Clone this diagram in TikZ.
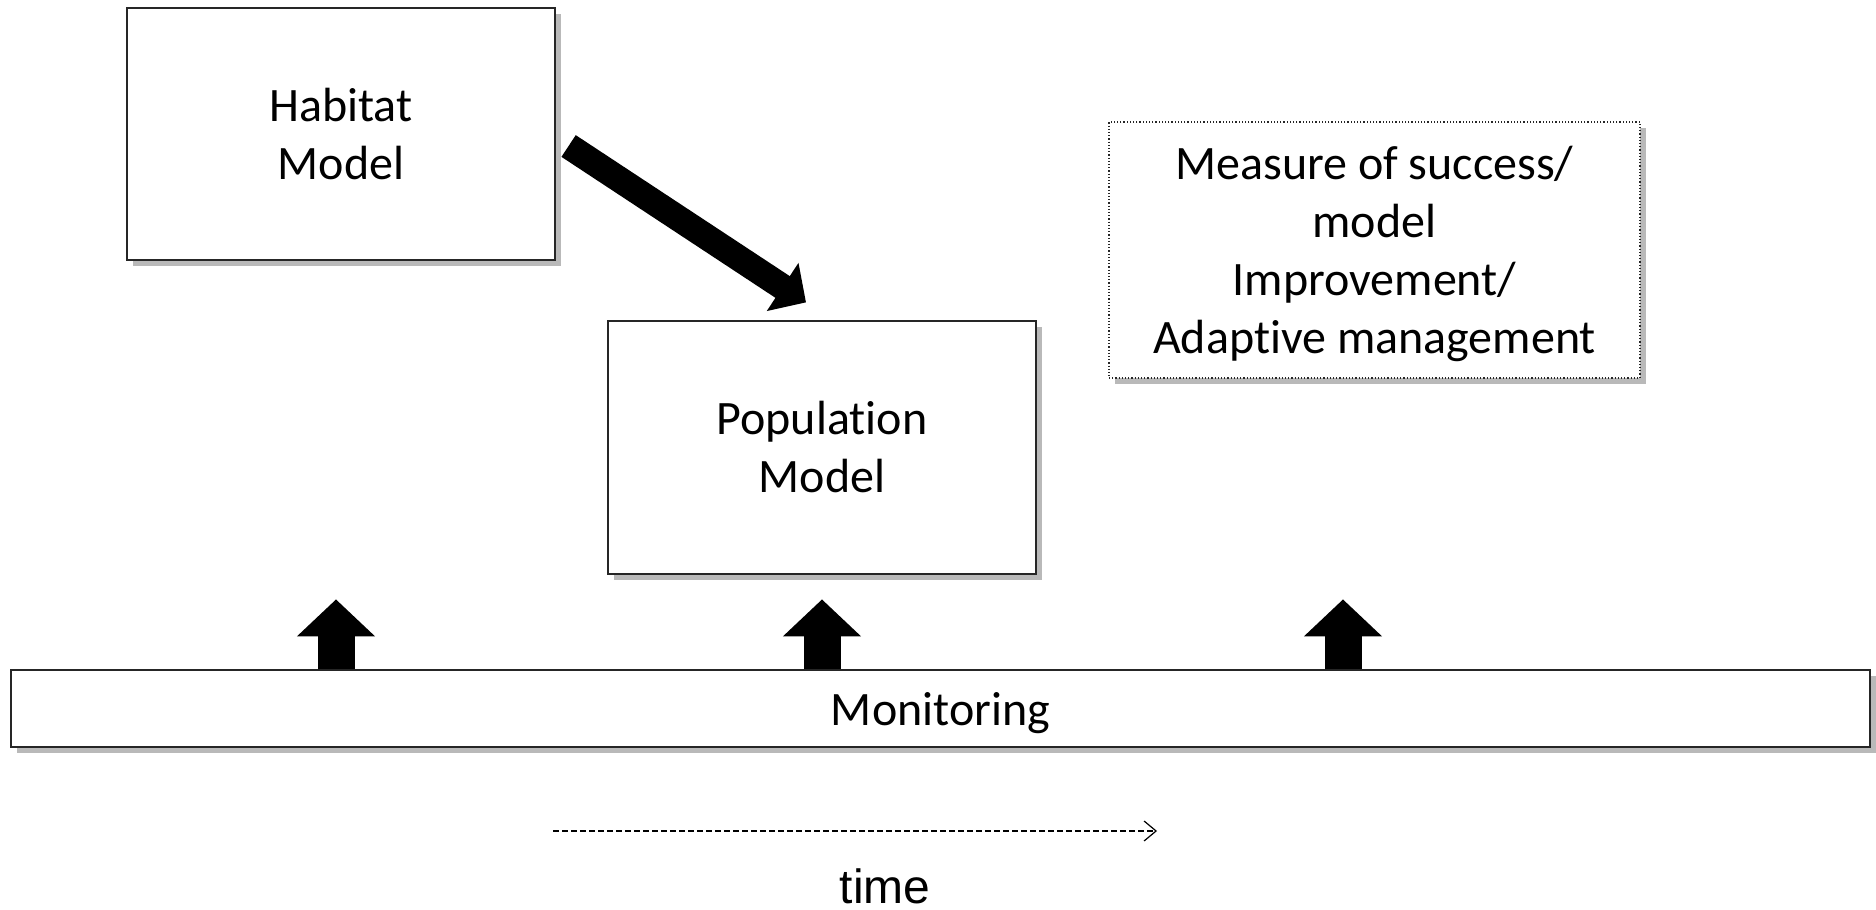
\documentclass[tikz,border=0pt]{standalone}
\usepackage{fontspec}
\setmainfont[Ligatures=NoCommon]{Carlito}
\newfontfamily\arialfont{Liberation Sans}
\usepackage{tikz}
\usetikzlibrary{shapes, arrows.meta, positioning, calc, shadows}
\tikzstyle{block} = [draw=black!85, line width=0.6pt, rectangle, fill=white, align=center, font=\fontsize{24}{29}\selectfont, drop shadow={shadow xshift=3pt, shadow yshift=-3pt, fill=gray!55, opacity=1}]
\tikzstyle{bigarrow} = [line width=13pt, -{Triangle[length=14pt, width=28pt]}]
\tikzstyle{uparrow} = [line width=18.5pt, -{Triangle[length=18.5pt, width=38pt]}]
\tikzstyle{timearrow} = [line width=0.6pt, dash pattern=on 3pt off 1.5pt, -{Straight Barb[length=6pt, width=10pt]}]

\begin{document}
\begin{tikzpicture}[x=1pt, y=1pt]
        \useasboundingbox (0,0) rectangle (938,455);
        \node[block, minimum width=214pt, minimum height=126pt] (habitat) at (170.5,388) {Habitat\\ Model};
        \node[block, minimum width=214pt, minimum height=126.5pt] (population) at (411,231.25) {Population\\ Model};
        \node[block, densely dotted, text depth=0pt, minimum width=265.5pt, minimum height=128pt] (measure) at (687.25,330) {Measure of success/\\ model\\ Improvement/\\ Adaptive management};
        \node[block, text depth=0pt, minimum width=929.5pt, minimum height=38.5pt] (monitor) at (470.25,100.75) {Monitoring};
        \draw[bigarrow] ([xshift=6.5pt, yshift=-6pt]habitat.east) -- ([xshift=-8pt, yshift=9pt]population.north);
        \foreach \dx in {-302.25, -59.25, 201.25}
            \draw[uparrow] ([xshift=\dx pt]monitor.north) -- ++(0,35);
        \coordinate (tstart) at (276.5,39.5);
        \coordinate (tend) at (578.5,39.5);
        \draw[timearrow] (tstart) -- (tend);
        \node[inner sep=0pt, font=\arialfont\fontsize{24}{29}\selectfont] (time) at (442.5,12) {time};
    \end{tikzpicture}
\end{document}
